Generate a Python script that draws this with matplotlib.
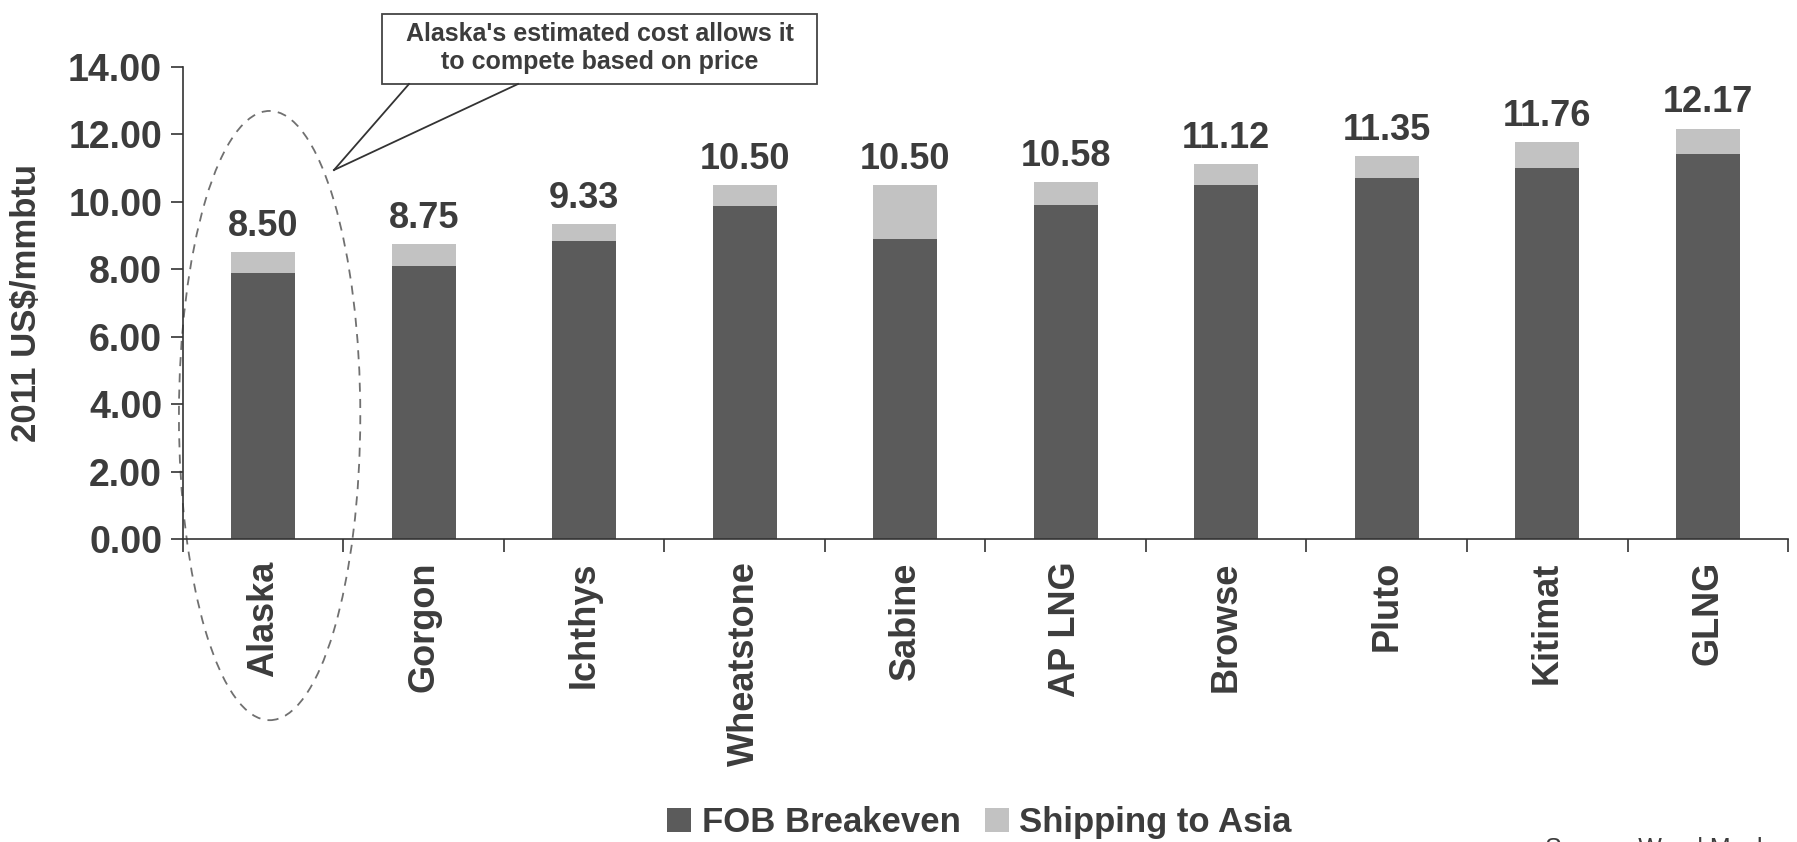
import matplotlib
matplotlib.use("Agg")
import matplotlib.pyplot as plt
from matplotlib.patches import Ellipse, Rectangle
from matplotlib.lines import Line2D
import numpy as np

plt.rcParams['font.family'] = ['Liberation Sans', 'DejaVu Sans']
plt.rcParams['font.weight'] = 'bold'

# Data
projects = ["Alaska", "Gorgon", "Ichthys", "Wheatstone", "Sabine",
            "AP LNG", "Browse", "Pluto", "Kitimat", "GLNG"]
fob_breakeven = [7.90, 8.10, 8.83, 9.88, 8.90, 9.90, 10.50, 10.70, 11.00, 11.43]
shipping_asia = [0.60, 0.65, 0.50, 0.62, 1.60, 0.68, 0.62, 0.65, 0.76, 0.74]
total_labels = ["8.50", "8.75", "9.33", "10.50", "10.50",
                "10.58", "11.12", "11.35", "11.76", "12.17"]

DARK = "#5b5b5b"
LIGHT = "#c2c2c2"
TEXT = "#3c3c3c"

fig = plt.figure(figsize=(17.97, 8.42), dpi=100)
ax = fig.add_axes([0.1018, 0.3599, 0.8932, 0.5606])

x = np.arange(len(projects))
totals = np.array(fob_breakeven) + np.array(shipping_asia)

ax.bar(x, fob_breakeven, width=0.4, color=DARK, label="FOB Breakeven")
ax.bar(x, shipping_asia, width=0.4, bottom=fob_breakeven, color=LIGHT,
       label="Shipping to Asia")

for xi, t, lab in zip(x, totals, total_labels):
    ax.annotate(lab, (xi, t), xytext=(0, 6), textcoords="offset points",
                ha="center", va="bottom", fontsize=26, fontweight="bold",
                color=TEXT)

ax.set_xlim(-0.5, len(projects) - 0.5)
ax.set_ylim(0, 14)
ax.set_yticks(np.arange(0, 14.1, 2))
ax.set_yticklabels([f"{v:.2f}" for v in np.arange(0, 14.1, 2)])
ax.set_xticks(x)
ax.set_xticklabels(projects, rotation=90)
ax.set_xticks(np.arange(-0.5, len(projects)), minor=True)

ax.tick_params(axis="x", which="major", length=0, pad=16, labelsize=26,
               labelcolor=TEXT)
ax.tick_params(axis="x", which="minor", length=9, width=1.2, color="#333333",
               direction="out")
ax.tick_params(axis="y", length=9, width=1.2, color="#333333", labelsize=27,
               labelcolor=TEXT, pad=6)

for s in ["top", "right"]:
    ax.spines[s].set_visible(False)
for s in ["left", "bottom"]:
    ax.spines[s].set_color("#333333")
    ax.spines[s].set_linewidth(1.2)

ax.set_ylabel("2011 US$/mmbtu", fontsize=25, fontweight="bold", color=TEXT)
ax.yaxis.set_label_coords(-0.087, 0.5)

# dashed ellipse around Alaska
ell = Ellipse((0.04, 3.66), 1.13, 18.07, fill=False, linestyle=(0, (5, 4)),
              edgecolor="#707070", linewidth=1.3, clip_on=False)
ax.add_patch(ell)

# callout box with pointer
W, H = 1797.0, 842.0
tip = (334 / W, 1 - 170 / H)
for bx in (409, 518):
    fig.add_artist(Line2D([tip[0], bx / W], [tip[1], 1 - 84 / H],
                          color="#333333", linewidth=1.3))
fig.add_artist(Rectangle((382 / W, 1 - 84 / H), 435 / W, 70 / H,
                         facecolor="white", edgecolor="#444444",
                         linewidth=1.3))
fig.text(600 / W, 1 - 48 / H,
         "Alaska's estimated cost allows it\nto compete based on price",
         ha="center", va="center", fontsize=18, fontweight="bold",
         color=TEXT, linespacing=1.2)

fig.legend(loc="center", bbox_to_anchor=(0.545, 0.0226), ncol=2,
           frameon=False, handlelength=0.7, handleheight=0.7,
           handletextpad=0.3, columnspacing=0.7, labelcolor=TEXT,
           prop={"weight": "bold", "size": 25})

fig.text(1545 / W, 0.006, "Source: Wood Mackenzie", ha="left", va="top",
         fontsize=18, fontweight="normal", color=TEXT)

fig.savefig("out.png", dpi=100)
